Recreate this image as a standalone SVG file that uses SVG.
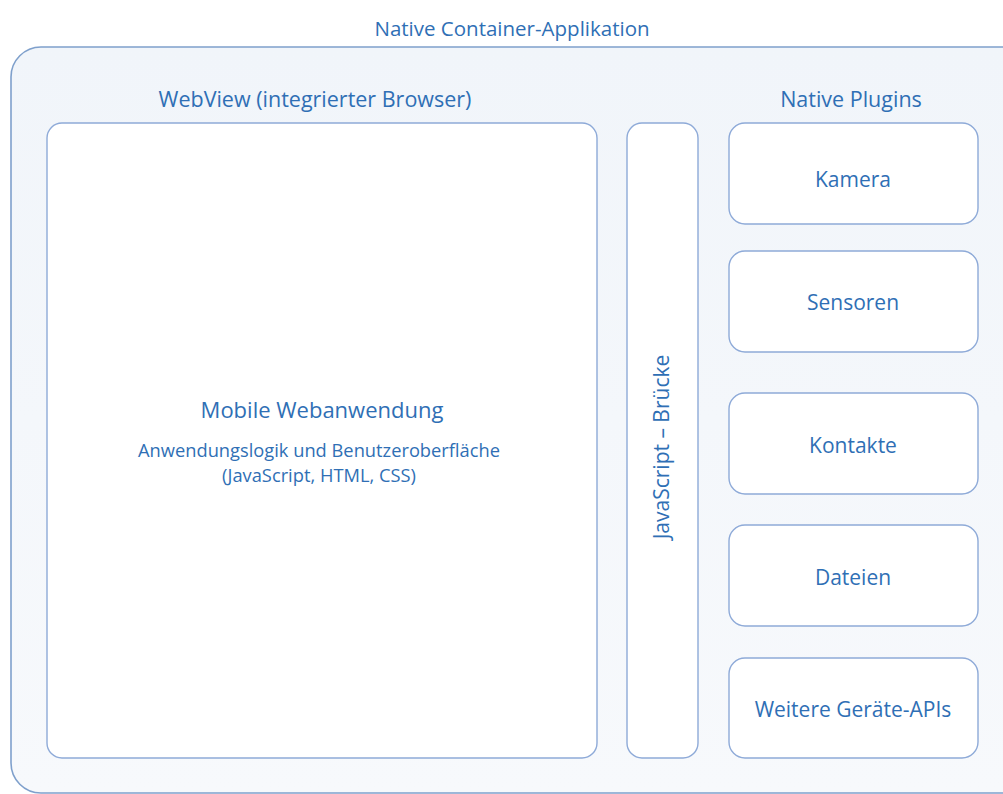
<svg xmlns="http://www.w3.org/2000/svg" width="1003" height="794" viewBox="0 0 1003 794">
  <defs>
    <linearGradient id="containerFill" x1="0" y1="0" x2="0" y2="1">
      <stop offset="0" stop-color="#f1f5fa"/>
      <stop offset="1" stop-color="#f7f9fc"/>
    </linearGradient>
  </defs>
  <style>
    text { font-family: "Open Sans", "Liberation Sans", sans-serif; fill: #2f6fb5; text-anchor: middle; }
    .box { fill: #ffffff; stroke: #8eaad8; stroke-width: 1.4; }
    .outer { fill: url(#containerFill); stroke: #7fa0cc; stroke-width: 1.6; }
    .lbl { font-size: 21px; }
    .head { font-size: 21.5px; }
  </style>
  <rect width="1003" height="794" fill="#ffffff"/>

  <!-- Native container application -->
  <g id="container">
    <rect class="outer" x="11" y="47" width="1020" height="746" rx="30" ry="30"/>
    <text x="512" y="36" font-size="20.5px">Native Container-Applikation</text>
  </g>

  <!-- WebView with the mobile web app -->
  <g id="webview">
    <text class="head" x="315" y="107">WebView (integrierter Browser)</text>
    <rect class="box" x="47" y="123" width="550" height="635" rx="15" ry="15"/>
    <text x="322" y="418" font-size="22px">Mobile Webanwendung</text>
    <text x="319" y="457" font-size="18.3px">Anwendungslogik und Benutzeroberfläche</text>
    <text x="319" y="482" font-size="18.3px">(JavaScript, HTML, CSS)</text>
  </g>

  <!-- JavaScript bridge -->
  <g id="bridge">
    <rect class="box" x="627" y="123" width="71" height="635" rx="15" ry="15"/>
    <text class="lbl" font-size="22px" transform="translate(669 447) rotate(-90)">JavaScript – Brücke</text>
  </g>

  <!-- Native plugins -->
  <g id="plugins-title">
    <text class="head" x="851" y="107">Native Plugins</text>
  </g>
  <g id="kamera">
    <rect class="box" x="729" y="123" width="249" height="101" rx="16" ry="16"/>
    <text class="lbl" x="853" y="187">Kamera</text>
  </g>
  <g id="sensoren">
    <rect class="box" x="729" y="251" width="249" height="101" rx="16" ry="16"/>
    <text class="lbl" x="853" y="310">Sensoren</text>
  </g>
  <g id="kontakte">
    <rect class="box" x="729" y="393" width="249" height="101" rx="16" ry="16"/>
    <text class="lbl" x="853" y="453">Kontakte</text>
  </g>
  <g id="dateien">
    <rect class="box" x="729" y="525" width="249" height="101" rx="16" ry="16"/>
    <text class="lbl" x="853" y="585">Dateien</text>
  </g>
  <g id="weitere">
    <rect class="box" x="729" y="658" width="249" height="100" rx="16" ry="16"/>
    <text class="lbl" x="853" y="717">Weitere Geräte-APIs</text>
  </g>

  <g id="connectors"/>
</svg>
